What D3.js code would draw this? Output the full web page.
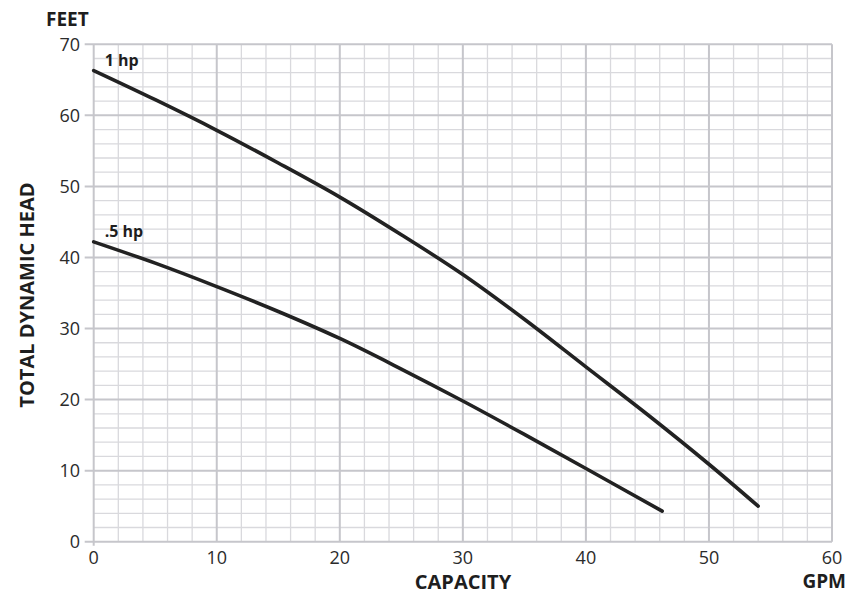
<!doctype html>
<html lang="en">
<head>
    <meta charset="utf-8">
    <title>Pump curve</title>
    <style>
        body { margin: 0; background: #fff; }
        svg { display: block; }
        text { font-family: "Open Sans", "Noto Sans", sans-serif; fill: #2b2b2b; }
        .title { font-weight: 700; fill: #1e1e1e; }
    </style>
</head>
<body>
    <div id="chart"></div>
    <script src="https://d3js.org/d3.v7.min.js"></script>
    <script>
        // capacity (GPM) vs total dynamic head (feet)
        const gpm1hp = [0, 5, 10, 15, 20, 25, 30, 35, 40, 45, 50, 54];
        const head1hp = [66.3, 62.2, 57.9, 53.3, 48.5, 43.2, 37.6, 31.3, 24.6, 17.9, 10.9, 5.0];
        const gpmHalf = [0, 5, 10, 15, 20, 25, 30, 35, 40, 46.2];
        const headHalf = [42.2, 39.2, 35.9, 32.4, 28.6, 24.3, 19.8, 15.1, 10.3, 4.3];
        const seriesNames = ["1 hp", ".5 hp"];
        const xTicks = [0, 10, 20, 30, 40, 50, 60];
        const yTicks = [0, 10, 20, 30, 40, 50, 60, 70];

        const W = 849, H = 597;
        const svg = d3.select("#chart").append("svg")
            .attr("width", W)
            .attr("height", H);

        const x = d3.scaleLinear().domain([0, 60]).range([93.7, 832]);
        const y = d3.scaleLinear().domain([0, 70]).range([541.7, 44.3]);

        // minor grid every 2
        const grid = svg.append("g");
        grid.selectAll(".vminor")
            .data(d3.range(2, 60, 2).filter(d => d % 10 !== 0))
            .enter().append("line")
            .attr("x1", d => x(d)).attr("x2", d => x(d))
            .attr("y1", y(0)).attr("y2", y(70))
            .attr("stroke", "#d9d9dd").attr("stroke-width", 1.3);
        grid.selectAll(".hminor")
            .data(d3.range(2, 70, 2).filter(d => d % 10 !== 0))
            .enter().append("line")
            .attr("x1", x(0)).attr("x2", x(60))
            .attr("y1", d => y(d)).attr("y2", d => y(d))
            .attr("stroke", "#d9d9dd").attr("stroke-width", 1.3);

        // major grid
        grid.selectAll(".vmajor")
            .data(xTicks)
            .enter().append("line")
            .attr("x1", d => x(d)).attr("x2", d => x(d))
            .attr("y1", d => d === 0 ? y(0) + 4 : y(0))
            .attr("y2", y(70))
            .attr("stroke", "#c6c6cb").attr("stroke-width", 2);
        grid.selectAll(".hmajor")
            .data(yTicks)
            .enter().append("line")
            .attr("x1", x(0) - 9).attr("x2", x(60))
            .attr("y1", d => y(d)).attr("y2", d => y(d))
            .attr("stroke", "#c6c6cb").attr("stroke-width", 2);

        // tick labels
        svg.append("g").selectAll("text")
            .data(xTicks)
            .enter().append("text")
            .attr("x", d => x(d))
            .attr("y", 564)
            .attr("text-anchor", "middle")
            .attr("font-size", 18)
            .text(d => d);
        svg.append("g").selectAll("text")
            .data(yTicks)
            .enter().append("text")
            .attr("x", 80)
            .attr("y", d => y(d) + 6.5)
            .attr("text-anchor", "end")
            .attr("font-size", 18)
            .text(d => d);

        // axis titles
        svg.append("text").attr("class", "title")
            .attr("x", 46).attr("y", 26)
            .attr("font-size", 19)
            .text("FEET");
        svg.append("text").attr("class", "title")
            .attr("x", 846).attr("y", 588)
            .attr("text-anchor", "end")
            .attr("font-size", 19)
            .text("GPM");
        svg.append("text").attr("class", "title")
            .attr("x", 463).attr("y", 589)
            .attr("text-anchor", "middle")
            .attr("font-size", 20)
            .text("CAPACITY");
        svg.append("text").attr("class", "title")
            .attr("transform", "translate(34,295) rotate(-90)")
            .attr("text-anchor", "middle")
            .attr("font-size", 20)
            .text("TOTAL DYNAMIC HEAD");

        // curves
        const line = d3.line()
            .x(d => x(d[0]))
            .y(d => y(d[1]))
            .curve(d3.curveCatmullRom.alpha(0.5));

        const series = [
            d3.zip(gpm1hp, head1hp),
            d3.zip(gpmHalf, headHalf)
        ];

        svg.append("g").selectAll("path")
            .data(series)
            .enter().append("path")
            .attr("d", line)
            .attr("fill", "none")
            .attr("stroke", "#222")
            .attr("stroke-width", 3.6)
            .attr("stroke-linecap", "round");

        svg.append("g").selectAll("text")
            .data(series)
            .enter().append("text")
            .attr("class", "title")
            .attr("x", x(0) + 11)
            .attr("y", d => y(d[0][1]) - 5)
            .attr("font-size", 16)
            .text((d, i) => seriesNames[i]);
    </script>
</body>
</html>
